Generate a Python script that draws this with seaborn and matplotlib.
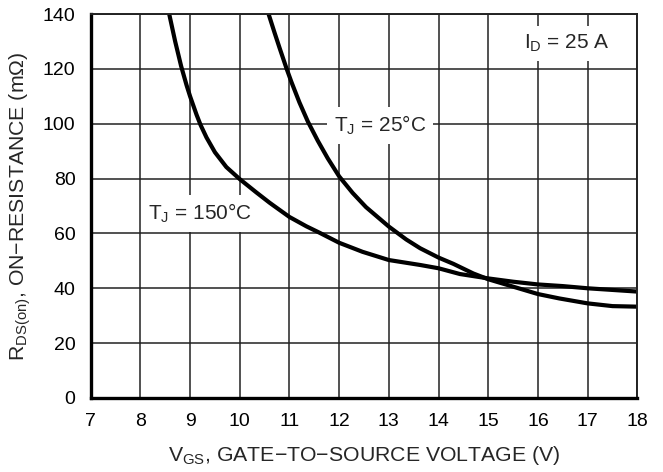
import numpy as np
import pandas as pd
import matplotlib
matplotlib.use("Agg")
import matplotlib.pyplot as plt
import seaborn as sns

# Data
vgs_150 = [8.58, 8.70, 8.82, 8.93, 9.0, 9.13, 9.21, 9.33, 9.5, 9.73, 10.0,
           10.33, 10.6, 10.73, 11.0, 11.34, 11.6, 12.0, 12.47, 13.0, 13.63,
           14.0, 14.43, 15.0, 15.5, 16.0, 16.5, 17.0, 17.5, 18.0]
rds_150 = [140, 130, 121, 114, 110, 103.3, 99.6, 95.0, 89.6, 84.2, 79.8,
           75.0, 71.2, 69.5, 66.0, 62.6, 60.3, 56.6, 53.3, 50.3, 48.5,
           47.3, 45.2, 43.6, 42.4, 41.4, 40.8, 40.0, 39.4, 38.8]

vgs_25 = [10.58, 10.70, 10.80, 10.94, 11.04, 11.2, 11.37, 11.57, 11.77, 12.0,
          12.27, 12.54, 13.0, 13.35, 13.63, 14.0, 14.3, 14.7, 15.0, 15.5,
          16.0, 16.43, 17.0, 17.5, 18.0]
rds_25 = [140, 133.2, 127.7, 120.2, 115.2, 107.8, 100.8, 93.8, 87.4, 80.8,
          74.8, 69.6, 62.5, 57.8, 54.6, 51.2, 48.9, 45.4, 43.3, 40.6,
          37.9, 36.3, 34.5, 33.5, 33.3]

x_ticks = [7, 8, 9, 10, 11, 12, 13, 14, 15, 16, 17, 18]
y_ticks = [0, 20, 40, 60, 80, 100, 120, 140]

series_names = ["150", "25"]

df = pd.concat([
    pd.DataFrame({"VGS": vgs_150, "RDS": rds_150, "TJ": series_names[0]}),
    pd.DataFrame({"VGS": vgs_25, "RDS": rds_25, "TJ": series_names[1]}),
])

sns.set_style("white")
plt.rcParams["font.family"] = ["Liberation Sans", "DejaVu Sans"]
plt.rcParams["mathtext.fontset"] = "custom"
plt.rcParams["mathtext.rm"] = "Liberation Sans"
plt.rcParams["mathtext.it"] = "Liberation Sans:italic"
plt.rcParams["mathtext.bf"] = "Liberation Sans:bold"

fig = plt.figure(figsize=(6.63, 4.72), dpi=100)
ax = fig.add_axes([0.1368, 0.1568, 0.9612 - 0.1368, 0.9703 - 0.1568])

sns.lineplot(data=df, x="VGS", y="RDS", hue="TJ", units="TJ", estimator=None,
             palette={"150": "black", "25": "black"}, linewidth=3.0,
             legend=False, ax=ax, zorder=3)

ax.set_xlim(7, 18)
ax.set_ylim(0, 140)
ax.set_xticks(x_ticks)
ax.set_yticks(y_ticks)
ax.set_xticklabels([str(v) for v in x_ticks])
ax.set_yticklabels([str(v) for v in y_ticks])
ax.tick_params(axis="both", length=0, pad=11, labelsize=14, colors="black")

ax.grid(True, color="#222222", linewidth=1.1)
ax.set_axisbelow(True)

for side in ["left", "bottom"]:
    ax.spines[side].set_linewidth(2.4)
    ax.spines[side].set_color("black")
for side in ["top", "right"]:
    ax.spines[side].set_linewidth(1.4)
    ax.spines[side].set_color("#222222")
for s in ax.spines.values():
    s.set_visible(True)
    s.set_zorder(4)

ax.set_xlabel(r"V$_{\mathrm{GS}}$, GATE−TO−SOURCE VOLTAGE (V)", fontsize=15.3, labelpad=10)
ax.set_ylabel(r"R$_{\mathrm{DS(on)}}$, ON−RESISTANCE (m$\Omega$)", fontsize=15.3, labelpad=7)

box = dict(facecolor="white", edgecolor="none", pad=5)
ax.text(8.15, 67.4, r"T$_{\mathrm{J}}$ = 150°C", fontsize=15, ha="left", va="center",
        bbox=box, zorder=2)
ax.text(11.9, 99.5, r"T$_{\mathrm{J}}$ = 25°C", fontsize=15, ha="left", va="center",
        bbox=box, zorder=2)
ax.text(15.72, 129.4, r"I$_{\mathrm{D}}$ = 25 A", fontsize=15, ha="left", va="center",
        bbox=box, zorder=2)

fig.savefig("out.png", dpi=100)
